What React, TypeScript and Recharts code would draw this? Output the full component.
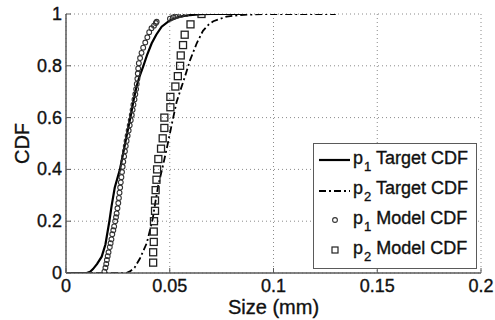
import React from 'react';
import { ComposedChart, Line, Scatter, XAxis, YAxis, CartesianGrid, Legend } from 'recharts';

// ---- data ----
const X_TICKS = [0, 0.05, 0.1, 0.15, 0.2];
const Y_TICKS = [0, 0.2, 0.4, 0.6, 0.8, 1];

const P1_TARGET_X = [0, 0.01, 0.0116, 0.013, 0.015, 0.0172, 0.019, 0.0209, 0.022, 0.0235, 0.026, 0.0275, 0.029, 0.0305, 0.0315, 0.0324, 0.034, 0.0355, 0.0373, 0.039, 0.0413, 0.0435, 0.0461, 0.05, 0.055, 0.0598, 0.065, 0.07, 0.085];
const P1_TARGET_Y = [0, 0, 0.005, 0.015, 0.035, 0.063, 0.11, 0.2, 0.26, 0.33, 0.4, 0.46, 0.52, 0.58, 0.62, 0.66, 0.72, 0.76, 0.8, 0.84, 0.887, 0.92, 0.951, 0.975, 0.99, 0.996, 0.999, 1, 1];

const P2_TARGET_X = [0, 0.029, 0.0308, 0.033, 0.0357, 0.0389, 0.0405, 0.0418, 0.043, 0.0445, 0.0466, 0.0488, 0.0514, 0.0533, 0.0549, 0.0573, 0.0598, 0.063, 0.066, 0.0686, 0.071, 0.0774, 0.084, 0.095, 0.13];
const P2_TARGET_Y = [0, 0, 0.006, 0.02, 0.057, 0.115, 0.166, 0.21, 0.27, 0.34, 0.41, 0.49, 0.59, 0.66, 0.7, 0.758, 0.822, 0.887, 0.935, 0.958, 0.972, 0.99, 0.996, 1, 1];

const P1_MODEL_X = [0.0185, 0.019, 0.0194, 0.0197, 0.0201, 0.0205, 0.0211, 0.0215, 0.0219, 0.0223, 0.0228, 0.0232, 0.0237, 0.0241, 0.0244, 0.0248, 0.0252, 0.0255, 0.0258, 0.0261, 0.0264, 0.0267, 0.027, 0.0273, 0.0276, 0.028, 0.0284, 0.0288, 0.0292, 0.0297, 0.0302, 0.0307, 0.0312, 0.0317, 0.0321, 0.0325, 0.033, 0.0334, 0.0338, 0.0341, 0.0344, 0.0346, 0.0348, 0.0351, 0.0357, 0.0364, 0.0372, 0.0382, 0.0392, 0.0401, 0.0412, 0.0424, 0.0433, 0.0437, 0.0501, 0.0515, 0.0527, 0.054, 0.0555, 0.058];
const P1_MODEL_Y = [0.005, 0.02, 0.035, 0.05, 0.065, 0.08, 0.1, 0.115, 0.13, 0.15, 0.165, 0.18, 0.2, 0.215, 0.23, 0.25, 0.27, 0.29, 0.31, 0.33, 0.35, 0.37, 0.39, 0.41, 0.43, 0.45, 0.47, 0.49, 0.51, 0.53, 0.55, 0.57, 0.59, 0.61, 0.63, 0.65, 0.67, 0.69, 0.71, 0.73, 0.75, 0.77, 0.79, 0.81, 0.83, 0.85, 0.87, 0.89, 0.91, 0.93, 0.945, 0.955, 0.965, 0.97, 0.982, 0.987, 0.991, 0.994, 0.997, 1];

const P2_MODEL_X = [0.042, 0.042, 0.0423, 0.0423, 0.0424, 0.0429, 0.0429, 0.0432, 0.0436, 0.0439, 0.0445, 0.0458, 0.0466, 0.0474, 0.0474, 0.0503, 0.0503, 0.0527, 0.0539, 0.055, 0.0553, 0.0564, 0.0572, 0.06, 0.0653];
const P2_MODEL_Y = [0.04, 0.08, 0.12, 0.16, 0.2, 0.24, 0.28, 0.32, 0.36, 0.4, 0.44, 0.48, 0.52, 0.56, 0.6, 0.64, 0.68, 0.72, 0.76, 0.8, 0.84, 0.88, 0.92, 0.96, 1];

const toPts = (xs: number[], ys: number[]) => xs.map((x, i) => ({ x, y: ys[i] }));
const p1Target = toPts(P1_TARGET_X, P1_TARGET_Y);
const p2Target = toPts(P2_TARGET_X, P2_TARGET_Y);
const p1Model = toPts(P1_MODEL_X, P1_MODEL_Y);
const p2Model = toPts(P2_MODEL_X, P2_MODEL_Y);

// ---- styling ----
const FONT = '"Liberation Sans", Arial, Helvetica, sans-serif';
const FRAME = '#5a5a5a';
const TEXT = '#111';
const DASHDOT = '7 3 2 3';
const TEXT_STROKE = 0.35;

const XTickBottom = (props: any) => {
  const { x, y, payload } = props;
  return (
    <g>
      <line x1={x} x2={x} y1={y} y2={y - 5} stroke={FRAME} strokeWidth={1} />
      <text x={x} y={y + 19} textAnchor="middle" fontSize={18} fill={TEXT} stroke={TEXT} strokeWidth={TEXT_STROKE} fontFamily={FONT}>
        {String(payload.value)}
      </text>
    </g>
  );
};
const YTickLeft = (props: any) => {
  const { x, y, payload } = props;
  return (
    <g>
      <line x1={x} x2={x + 5} y1={y} y2={y} stroke={FRAME} strokeWidth={1} />
      <text x={x - 4} y={y + 6} textAnchor="end" fontSize={18} fill={TEXT} stroke={TEXT} strokeWidth={TEXT_STROKE} fontFamily={FONT}>
        {String(payload.value)}
      </text>
    </g>
  );
};
const XTickTop = (props: any) => {
  const { x, y } = props;
  return <line x1={x} x2={x} y1={y} y2={y + 5} stroke={FRAME} strokeWidth={1} />;
};
const YTickRight = (props: any) => {
  const { x, y } = props;
  return <line x1={x} x2={x - 5} y1={y} y2={y} stroke={FRAME} strokeWidth={1} />;
};

const CircleMark = (props: any) => (
  <circle cx={props.cx} cy={props.cy} r={2.4} fill="none" stroke="#333" strokeWidth={1.1} />
);
const SquareMark = (props: any) => (
  <rect x={props.cx - 3.5} y={props.cy - 3.5} width={7} height={7} fill="none" stroke="#222" strokeWidth={1.3} />
);

const Sub = ({ n }: { n: string }) => (
  <span style={{ fontSize: 13, position: 'relative', top: 7, marginLeft: 1 }}>{n}</span>
);

const LegendBox = () => {
  const rows = [
    { kind: 'solid', n: '1', label: 'Target CDF' },
    { kind: 'dashdot', n: '2', label: 'Target CDF' },
    { kind: 'circle', n: '1', label: 'Model CDF' },
    { kind: 'square', n: '2', label: 'Model CDF' },
  ];
  return (
    <div
      style={{
        width: 164,
        height: 126,
        boxSizing: 'border-box',
        border: `1.5px solid ${FRAME}`,
        background: '#fff',
        fontFamily: FONT,
        fontSize: 18,
        color: TEXT,
        WebkitTextStroke: `${TEXT_STROKE}px ${TEXT}`,
      }}
    >
      {rows.map((r, i) => (
        <div key={i} style={{ height: 30, display: 'flex', alignItems: 'center', position: 'relative' }}>
          <svg width={39} height={30} style={{ flex: 'none' }}>
            {r.kind === 'solid' && <line x1={5} x2={36} y1={16} y2={16} stroke="#000" strokeWidth={2.2} />}
            {r.kind === 'dashdot' && (
              <line x1={5} x2={36} y1={17} y2={17} stroke="#000" strokeWidth={1.8} strokeDasharray={DASHDOT} />
            )}
            {r.kind === 'circle' && <circle cx={21} cy={16} r={2.4} fill="none" stroke="#333" strokeWidth={1.1} />}
            {r.kind === 'square' && (
              <rect x={18} y={13} width={6} height={6} fill="none" stroke="#222" strokeWidth={1.2} />
            )}
          </svg>
          <span style={{ whiteSpace: 'pre', lineHeight: '18px' }}>
            {'p'}
            <Sub n={r.n} />
            {' ' + r.label}
          </span>
        </div>
      ))}
    </div>
  );
};

export default function App() {
  return (
    <div style={{ position: 'absolute', left: 0, top: 0, width: 495, height: 320, background: '#fff' }}>
      <ComposedChart width={495} height={320} margin={{ top: 14, right: 14, bottom: 0, left: 0 }}>
        <CartesianGrid stroke="#8a8a8a" strokeDasharray="1 3" strokeWidth={1} />
        <XAxis
          xAxisId={0}
          dataKey="x"
          type="number"
          domain={[0, 0.2]}
          ticks={X_TICKS}
          height={47}
          tickSize={0}
          tickMargin={0}
          tick={<XTickBottom />}
          axisLine={{ stroke: FRAME, strokeWidth: 1.5 }}
          tickLine={false}
          allowDataOverflow
          label={{
            content: (p: any) => (
              <text
                x={p.viewBox.x + p.viewBox.width / 2}
                y={p.viewBox.y + 41}
                textAnchor="middle"
                fontSize={20}
                fill={TEXT}
                stroke={TEXT}
                strokeWidth={TEXT_STROKE}
                fontFamily={FONT}
              >
                Size (mm)
              </text>
            ),
          }}
        />
        <XAxis
          xAxisId="top"
          orientation="top"
          type="number"
          dataKey="x"
          domain={[0, 0.2]}
          ticks={X_TICKS}
          height={0}
          tickSize={0}
          tickMargin={0}
          tick={<XTickTop />}
          tickLine={false}
          axisLine={{ stroke: FRAME, strokeWidth: 1.5 }}
          allowDataOverflow
        />
        <YAxis
          yAxisId={0}
          type="number"
          domain={[0, 1]}
          ticks={Y_TICKS}
          width={66}
          tickSize={0}
          tickMargin={0}
          tick={<YTickLeft />}
          tickLine={false}
          axisLine={{ stroke: FRAME, strokeWidth: 1.5 }}
          allowDataOverflow
          label={{
            content: (p: any) => (
              <text
                x={p.viewBox.x + 22}
                y={p.viewBox.y + p.viewBox.height / 2}
                transform={`rotate(-90 ${p.viewBox.x + 22} ${p.viewBox.y + p.viewBox.height / 2})`}
                textAnchor="middle"
                dominantBaseline="central"
                fontSize={20}
                fill={TEXT}
                stroke={TEXT}
                strokeWidth={TEXT_STROKE}
                fontFamily={FONT}
              >
                CDF
              </text>
            ),
          }}
        />
        <YAxis
          yAxisId="right"
          orientation="right"
          type="number"
          domain={[0, 1]}
          ticks={Y_TICKS}
          width={0}
          tickSize={0}
          tickMargin={0}
          tick={<YTickRight />}
          tickLine={false}
          axisLine={{ stroke: FRAME, strokeWidth: 1.5 }}
          allowDataOverflow
        />
        <Line
          data={p1Target}
          dataKey="y"
          xAxisId={0}
          yAxisId={0}
          type="linear"
          stroke="#000"
          strokeWidth={2.2}
          dot={false}
          activeDot={false}
          isAnimationActive={false}
        />
        <Line
          data={p2Target}
          dataKey="y"
          xAxisId={0}
          yAxisId={0}
          type="linear"
          stroke="#000"
          strokeWidth={1.8}
          strokeDasharray={DASHDOT}
          dot={false}
          activeDot={false}
          isAnimationActive={false}
        />
        <Scatter data={p1Model} dataKey="y" xAxisId={0} yAxisId={0} shape={<CircleMark />} isAnimationActive={false} />
        <Scatter data={p2Model} dataKey="y" xAxisId={0} yAxisId={0} shape={<SquareMark />} isAnimationActive={false} />
        <Legend
          layout="vertical"
          align="center"
          verticalAlign="middle"
          content={<LegendBox />}
          wrapperStyle={{ left: 313, top: 143, width: 164, height: 126, position: 'absolute' }}
        />
      </ComposedChart>
    </div>
  );
}
